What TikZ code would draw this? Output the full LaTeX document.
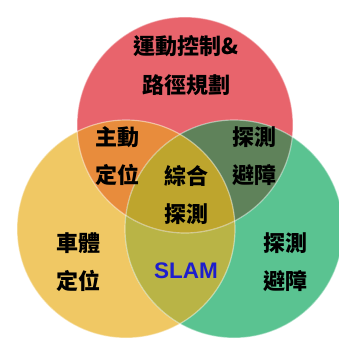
\documentclass[tikz,border=0pt]{standalone}
\usepackage{fontspec}
\setsansfont{Liberation Sans}
\newfontfamily\cjk{Noto Sans CJK TC}
\usepackage{tikz}
\usetikzlibrary{positioning}

\definecolor{motionred}{HTML}{E8646C}
\definecolor{locateyellow}{HTML}{F0C864}
\definecolor{detectgreen}{HTML}{5AC391}
\definecolor{redyellow}{HTML}{E88C3C}
\definecolor{redgreen}{HTML}{5F825A}
\definecolor{yellowgreen}{HTML}{B9B446}
\definecolor{allthree}{HTML}{BEA52D}
\definecolor{slamblue}{HTML}{1E1ECC}

\begin{document}
\begin{tikzpicture}[x=1pt, y=-1pt, node distance={38pt},
    lbl/.style = {font=\cjk\bfseries\fontsize{22}{22}\selectfont, inner sep=0pt},
    rim/.style = {draw=white, draw opacity=0.45, line width=1.2pt}]
    \useasboundingbox (0,0) rectangle (339,345);

    \coordinate (motion) at (185,125);
    \coordinate (locate) at (126,229);
    \coordinate (detect) at (234,229);

    % the three circles
    \fill[motionred] (motion) circle (108);
    \fill[locateyellow] (locate) circle (109);
    \fill[detectgreen] (detect) circle (109);

    % overlaps
    \begin{scope}
        \clip (locate) circle (109);
        \fill[yellowgreen] (detect) circle (109);
    \end{scope}
    \begin{scope}
        \clip (motion) circle (108);
        \fill[redyellow] (locate) circle (109);
        \fill[redgreen] (detect) circle (109);
        \clip (locate) circle (109);
        \fill[allthree] (detect) circle (109);
    \end{scope}

    \draw[rim] (motion) circle (108);
    \draw[rim] (locate) circle (109);
    \draw[rim] (detect) circle (109);

    % labels
    \node[lbl] (plan1) at (186,46) {運動控制\&};
    \node[lbl] (plan2) [below of=plan1, yshift=-1pt] {路徑規劃};

    \node[lbl] (active1) at (117,137) {主動};
    \node[lbl] (active2) [below of=active1] {定位};

    \node[lbl] (avoid1) at (254,137) {探測};
    \node[lbl] (avoid2) [below of=avoid1] {避障};

    \node[lbl] (fuse1) at (186,176) {綜合};
    \node[lbl] (fuse2) [below of=fuse1] {探測};

    \node[lbl] (body1) at (78,243) {車體};
    \node[lbl] (body2) [below of=body1] {定位};

    \node[lbl] (sense1) at (285,243) {探測};
    \node[lbl] (sense2) [below of=sense1] {避障};

    \node[font=\sffamily\bfseries\fontsize{22.5}{22.5}\selectfont, text=slamblue, inner sep=0pt]
        (slam) at (186,271) {SLAM};
\end{tikzpicture}
\end{document}
